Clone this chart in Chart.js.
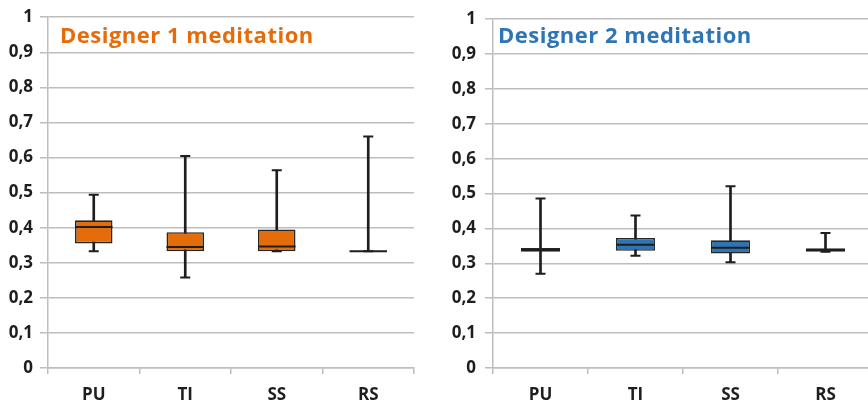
<!DOCTYPE html>
<html>
<head>
<meta charset="utf-8">
<script src="https://cdn.jsdelivr.net/npm/chart.js@4"></script>
<style>
  html, body { margin: 0; padding: 0; background: #fff; }
  #wrap { position: relative; width: 868px; height: 406px; overflow: hidden; }
  .panel { position: absolute; top: 0; height: 406px; }
  .ttl { position: absolute; top: 19px; font: bold 22px "Open Sans", sans-serif; letter-spacing: 0.5px; white-space: nowrap; }
</style>
</head>
<body>
<div id="wrap">
  <div class="panel" style="left:0;width:434px"><canvas id="c1"></canvas></div>
  <div class="panel" style="left:434px;width:446px"><canvas id="c2"></canvas></div>
  <div class="ttl" style="left:60px;color:#E46C0A">Designer 1 meditation</div>
  <div class="ttl" style="left:498px;color:#2E75B6">Designer 2 meditation</div>
</div>
<script>
const categories = ['PU', 'TI', 'SS', 'RS'];
const yTickLabels = ['0', '0,1', '0,2', '0,3', '0,4', '0,5', '0,6', '0,7', '0,8', '0,9', '1'];

// Designer 1
const d1Min = [0.333, 0.258, 0.333, 0.333];
const d1Q1  = [0.355, 0.333, 0.333, 0.333];
const d1Med = [0.402, 0.345, 0.346, 0.333];
const d1Q3  = [0.421, 0.387, 0.395, 0.333];
const d1Max = [0.494, 0.604, 0.564, 0.660];

// Designer 2
const d2Min = [0.270, 0.322, 0.303, 0.333];
const d2Q1  = [0.333, 0.336, 0.328, 0.333];
const d2Med = [0.338, 0.353, 0.345, 0.338];
const d2Q3  = [0.344, 0.373, 0.366, 0.343];
const d2Max = [0.486, 0.437, 0.521, 0.387];

const BOX_PCT = 0.41;
const grey = '#bdbdbd';
const ink = '#1e1e1e';

function makeChart(id, mn, q1, med, q3, mx, fill, axisW, padRight, labelPad) {
  const halfBox = c => c.chart.scales.x ? c.chart.scales.x.width / categories.length * BOX_PCT / 2 : 18;
  new Chart(document.getElementById(id), {
    type: 'bar',
    data: {
      labels: categories,
      datasets: [
        {
          // whisker
          data: categories.map((_, i) => [mn[i], mx[i]]),
          backgroundColor: ink,
          barThickness: 2,
          grouped: false,
          order: 3
        },
        {
          // box
          data: categories.map((_, i) => [q1[i], q3[i]]),
          backgroundColor: fill,
          borderColor: '#262626',
          borderWidth: 1.6,
          borderSkipped: false,
          categoryPercentage: 1,
          barPercentage: BOX_PCT,
          grouped: false,
          order: 2
        },
        {
          type: 'line',
          data: med,
          showLine: false,
          pointStyle: 'line',
          pointRadius: halfBox,
          borderColor: ink,
          borderWidth: 2,
          order: 1
        },
        {
          type: 'line',
          data: mx,
          showLine: false,
          pointStyle: 'line',
          pointRadius: 5,
          borderColor: ink,
          borderWidth: 2,
          order: 1
        },
        {
          type: 'line',
          data: mn,
          showLine: false,
          pointStyle: 'line',
          pointRadius: 5,
          borderColor: ink,
          borderWidth: 2,
          order: 1
        }
      ]
    },
    options: {
      responsive: true,
      maintainAspectRatio: false,
      animation: false,
      events: [],
      layout: { padding: { top: 14, right: padRight, left: 0, bottom: 0 } },
      plugins: { legend: { display: false }, tooltip: { enabled: false } },
      scales: {
        x: {
          offset: true,
          grid: { drawOnChartArea: false, color: grey, lineWidth: 1.5, tickLength: 6 },
          border: { color: grey, width: 1.5 },
          ticks: { color: ink, padding: 11, font: { family: 'Open Sans', size: 17, weight: 'bold' } },
          afterFit: s => { s.height = 38; }
        },
        y: {
          min: 0,
          max: 1,
          ticks: {
            stepSize: 0.1,
            color: ink,
            padding: labelPad,
            font: { family: 'Open Sans', size: 17, weight: 'bold' },
            callback: (v, i) => yTickLabels[i]
          },
          grid: { color: grey, lineWidth: 1.5, tickLength: 8 },
          border: { color: grey, width: 1.5 },
          afterFit: s => { s.width = axisW; }
        }
      }
    }
  });
}

makeChart('c1', d1Min, d1Q1, d1Med, d1Q3, d1Max, '#E46C0A', 48, 20, 7);
makeChart('c2', d2Min, d2Q1, d2Med, d2Q3, d2Max, '#2E75B6', 59, 0, 9);
</script>
</body>
</html>
